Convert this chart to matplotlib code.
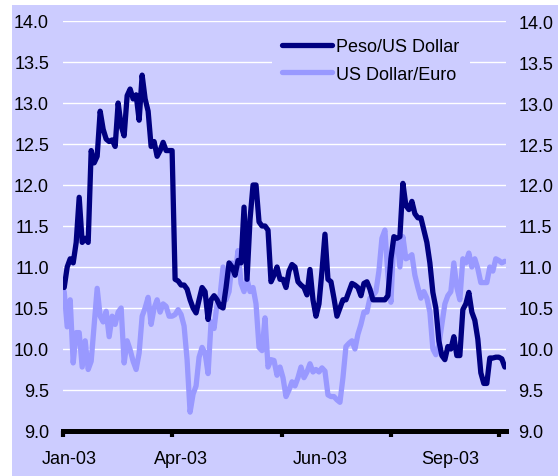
import numpy as np
import matplotlib
matplotlib.use("Agg")
import matplotlib.pyplot as plt
from matplotlib.patches import Rectangle

# Exchange rates (roughly one point per trading period)
peso_usd = [
    10.75, 11.00, 11.10, 11.05, 11.30, 11.85, 11.30, 11.35, 11.30, 12.42,
    12.27, 12.35, 12.90, 12.68, 12.56, 12.53, 12.55, 12.47, 13.00, 12.72,
    12.60, 13.09, 13.17, 13.05, 13.10, 12.79, 13.34, 13.05, 12.90, 12.47,
    12.53, 12.35, 12.42, 12.52, 12.42, 12.42, 12.42, 10.85, 10.83, 10.78,
    10.78, 10.73, 10.60, 10.50, 10.44, 10.60, 10.75, 10.70, 10.36, 10.60,
    10.65, 10.60, 10.52, 10.50, 10.75, 11.05, 11.00, 10.90, 11.08, 11.05,
    11.73, 10.85, 11.58, 12.00, 12.00, 11.55, 11.50, 11.50, 11.45, 10.82,
    10.90, 11.00, 10.85, 10.85, 10.75, 10.95, 11.03, 11.00, 10.82, 10.78,
    10.75, 10.66, 10.97, 10.60, 10.40, 10.55, 10.95, 11.40, 10.85, 10.82,
    10.62, 10.40, 10.50, 10.60, 10.60, 10.70, 10.80, 10.78, 10.75, 10.65,
    10.80, 10.82, 10.73, 10.60, 10.60, 10.60, 10.60, 10.60, 10.65, 11.10,
    11.37, 11.35, 11.37, 12.02, 11.75, 11.70, 11.80, 11.65, 11.60, 11.60,
    11.45, 11.30, 11.05, 10.69, 10.50, 10.10, 9.92, 9.87, 10.03, 10.00,
    10.15, 9.92, 9.92, 10.48, 10.55, 10.69, 10.45, 10.35, 10.12, 9.71,
    9.58, 9.58, 9.89, 9.89, 9.90, 9.90, 9.88, 9.78,
]

usd_euro = [
    10.70, 10.27, 10.60, 9.83, 10.20, 10.20, 9.78, 10.10, 9.75, 9.85,
    10.30, 10.74, 10.40, 10.33, 10.46, 10.15, 10.40, 10.30, 10.45, 10.50,
    9.83, 10.10, 9.99, 9.85, 9.75, 9.95, 10.40, 10.50, 10.63, 10.30,
    10.50, 10.60, 10.45, 10.55, 10.52, 10.40, 10.40, 10.42, 10.48, 10.42,
    10.28, 9.87, 9.23, 9.45, 9.55, 9.90, 10.02, 9.95, 9.70, 10.33,
    10.25, 10.55, 10.65, 11.00, 10.60, 10.70, 11.05, 10.90, 11.20, 10.80,
    10.70, 10.85, 10.70, 10.75, 10.55, 10.02, 9.98, 10.38, 9.78, 9.87,
    9.86, 9.68, 9.78, 9.65, 9.42, 9.50, 9.60, 9.55, 9.65, 9.78,
    9.65, 9.72, 9.82, 9.72, 9.75, 9.72, 9.77, 9.73, 9.44, 9.42,
    9.42, 9.38, 9.35, 9.65, 10.03, 10.07, 10.10, 10.00, 10.18, 10.30,
    10.45, 10.45, 10.62, 10.65, 10.70, 10.95, 11.35, 11.45, 10.90, 10.57,
    11.35, 11.35, 11.00, 11.37, 11.10, 11.12, 11.15, 10.90, 10.75, 10.62,
    10.70, 10.62, 10.45, 10.00, 9.93, 10.05, 10.30, 10.55, 10.65, 10.70,
    11.05, 10.75, 10.60, 11.10, 11.05, 11.17, 11.00, 11.10, 10.98, 10.81,
    10.81, 10.81, 11.00, 10.95, 11.10, 11.08, 11.05, 11.07,
]

month_labels = ["Jan-03", "Apr-03", "Jun-03", "Sep-03"]
y_ticks = [9.0, 9.5, 10.0, 10.5, 11.0, 11.5, 12.0, 12.5, 13.0, 13.5, 14.0]

# layout (in index units of the series)
tick_marks = [-0.33, 36, 72.67, 109, 145]
label_pos = [1.67, 39, 85.3, 128.7]

BG = "#CCCCFF"
NAVY = "#000080"
LIGHT = "#9999FF"
FS = 13

plt.rcParams["font.family"] = ["Liberation Sans", "DejaVu Sans"]

fig = plt.figure(figsize=(5.58, 4.77), dpi=100)
fig.patch.set_facecolor("white")
fig.patches.append(Rectangle((12 / 558, 0), 1, 1 - 6 / 477, transform=fig.transFigure,
                             facecolor=BG, edgecolor="none", zorder=-10))

ax = fig.add_axes([63 / 558, 1 - 432 / 477, (506 - 63) / 558, (432 - 22) / 477])
ax.set_facecolor(BG)

x = np.arange(len(peso_usd))
ax.plot(x, peso_usd, color=NAVY, lw=3.8, solid_joinstyle="round",
        solid_capstyle="round", label="Peso/US Dollar", zorder=3)
ax.plot(np.arange(len(usd_euro)), usd_euro, color=LIGHT, lw=3.8, solid_joinstyle="round",
        solid_capstyle="round", label="US Dollar/Euro", zorder=2)

ax.set_ylim(9.0, 14.0)
ax.set_xlim(-0.4, 147.4)

for v in y_ticks[1:]:
    ax.axhline(v, color="white", lw=1.0, zorder=1)

for s in ["top", "left", "right"]:
    ax.spines[s].set_visible(False)
ax.spines["bottom"].set_linewidth(3.6)
ax.spines["bottom"].set_color("black")
ax.spines["bottom"].set_zorder(5)

ax.set_xticks(tick_marks)
ax.set_xticklabels([""] * len(tick_marks))
ax.tick_params(axis="x", which="major", direction="out", length=4, width=3.0, color="black")
ax.set_xticks(label_pos, minor=True)
ax.set_xticklabels(month_labels, minor=True, fontsize=FS)
ax.tick_params(axis="x", which="minor", length=0, pad=14)

ax.set_yticks(y_ticks)
ax.set_yticklabels([f"{v:.1f}" for v in y_ticks], fontsize=FS)
ax.tick_params(axis="y", length=0, pad=10)

ax2 = ax.twinx()
ax2.set_ylim(9.0, 14.0)
ax2.set_yticks(y_ticks)
ax2.set_yticklabels([f"{v:.1f}" for v in y_ticks], fontsize=FS)
ax2.tick_params(axis="y", length=0, pad=9)
for s in ax2.spines.values():
    s.set_visible(False)

leg = ax.legend(loc="upper left", bbox_to_anchor=((272 - 63) / 443, (432 - 29) / 410),
                frameon=True, fontsize=FS, handlelength=2.8, handletextpad=0.22,
                labelspacing=0.6, borderpad=0.55, borderaxespad=0)
leg.get_frame().set_facecolor(BG)
leg.get_frame().set_edgecolor("none")
leg.get_frame().set_alpha(1)
leg.get_frame().set_boxstyle("square", pad=0)
for line in leg.get_lines():
    line.set_linewidth(3.8)

fig.savefig("out.png", dpi=100, facecolor=fig.get_facecolor())
